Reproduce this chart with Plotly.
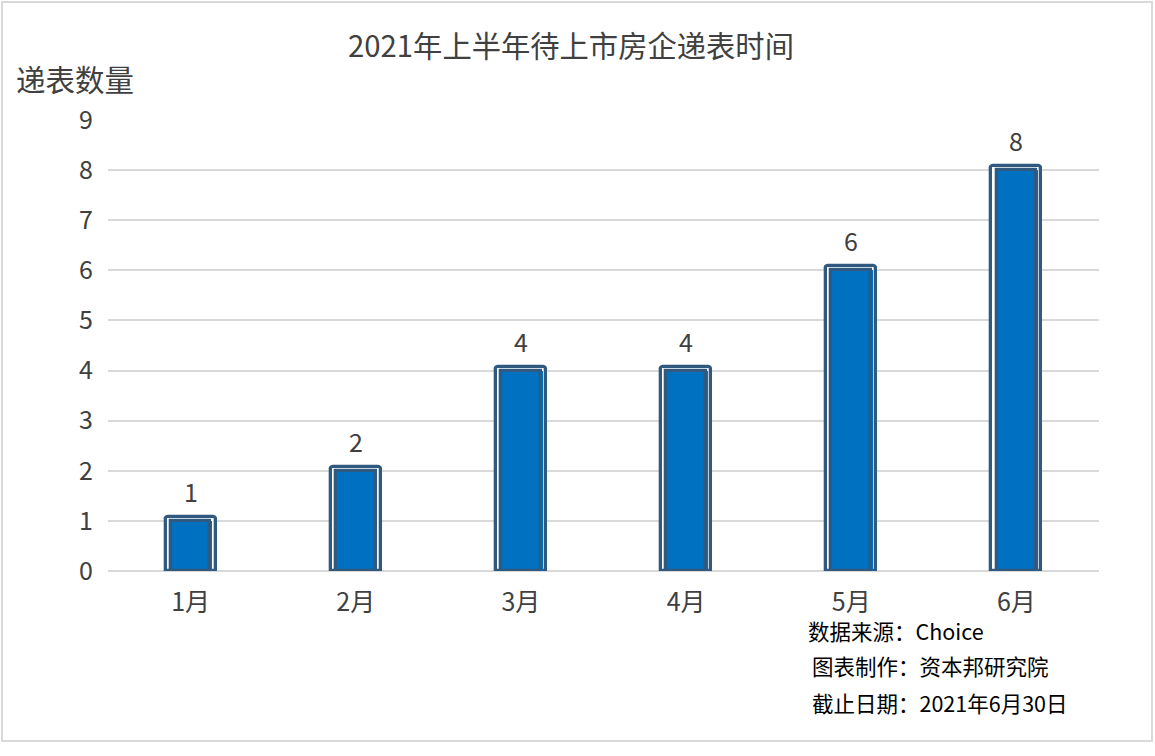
import plotly.graph_objects as go

months = ["1月", "2月", "3月", "4月", "5月", "6月"]
counts = [1, 2, 4, 4, 6, 8]
y_ticks = list(range(0, 10))

title_text = "2021年上半年待上市房企递表时间"
y_title = "递表数量"
notes = ["数据来源：Choice", "图表制作：资本邦研究院", "截止日期：2021年6月30日"]

FONT = "Noto Sans CJK SC, Noto Sans, sans-serif"
DARK = "#30597F"
FILL = "#0070C0"
TXT = "#404040"
PAD = 0.08  # outer frame extends slightly above value (style)

W, H = 1155, 756
L, R, T, B = 108, 1099, 120, 571
pw, ph = R - L, B - T

def px(x):
    return (x - L) / pw

def py(y):
    return (B - y) / ph

fig = go.Figure()
fig.add_trace(go.Bar(
    x=months, y=[c + PAD for c in counts], width=0.303,
    marker=dict(color="white", line=dict(color=DARK, width=3.3), cornerradius=3),
    hoverinfo="skip", showlegend=False,
))
fig.add_trace(go.Bar(
    x=months, y=counts, width=0.262,
    marker=dict(color=FILL, line=dict(width=0)),
    hoverinfo="skip", showlegend=False,
))
fig.add_trace(go.Bar(
    x=months, y=counts, width=0.24,
    marker=dict(color=FILL, line=dict(color=DARK, width=3.3)),
    showlegend=False,
))

for m, c in zip(months, counts):
    fig.add_annotation(x=m, y=c, yshift=30, text=str(c), showarrow=False,
                       font=dict(family=FONT, size=25, color=TXT), yanchor="middle")

fig.add_annotation(x=px(14), y=py(78), xref="paper", yref="paper", text=y_title,
                   showarrow=False, xanchor="left", yanchor="middle",
                   font=dict(family=FONT, size=29.5, color=TXT))

for i, (t, yy) in enumerate(zip(notes, [630, 665, 702])):
    fig.add_annotation(x=px(806 + (4 if i else 0)), y=py(yy), xref="paper", yref="paper", text=t,
                       showarrow=False, xanchor="left", yanchor="middle",
                       font=dict(family=FONT, size=21.5, color="#000000"))

fig.add_shape(type="rect", xref="paper", yref="paper",
              x0=px(2), x1=px(1152), y0=py(741), y1=py(2),
              line=dict(color="#D9D9D9", width=2), fillcolor="rgba(0,0,0,0)", layer="below")

fig.update_layout(
    width=W, height=H,
    margin=dict(l=L, r=W - R, t=T, b=H - B, pad=0),
    paper_bgcolor="white", plot_bgcolor="white",
    barmode="overlay", bargap=0,
    title=dict(text=title_text, x=571 / W, xanchor="center", y=1 - 47 / H,
               yanchor="middle", font=dict(family=FONT, size=29.3, color=TXT)),
    font=dict(family=FONT, color=TXT),
)
fig.update_xaxes(showgrid=False, showline=False, ticks="", zeroline=False,
                 tickfont=dict(family=FONT, size=25, color=TXT), ticklabelstandoff=14)
fig.update_yaxes(range=[0, 9], tickvals=y_ticks, showgrid=True, gridcolor="#D9D9D9", gridwidth=1.5,
                 zeroline=True, zerolinecolor="#D9D9D9", zerolinewidth=1.5,
                 tickfont=dict(family=FONT, size=25, color=TXT), ticklabelstandoff=14, showline=False)

fig.write_html("out.html", config={"displayModeBar": False},
               post_script="document.body.style.margin='0';document.body.style.overflow='hidden';")
